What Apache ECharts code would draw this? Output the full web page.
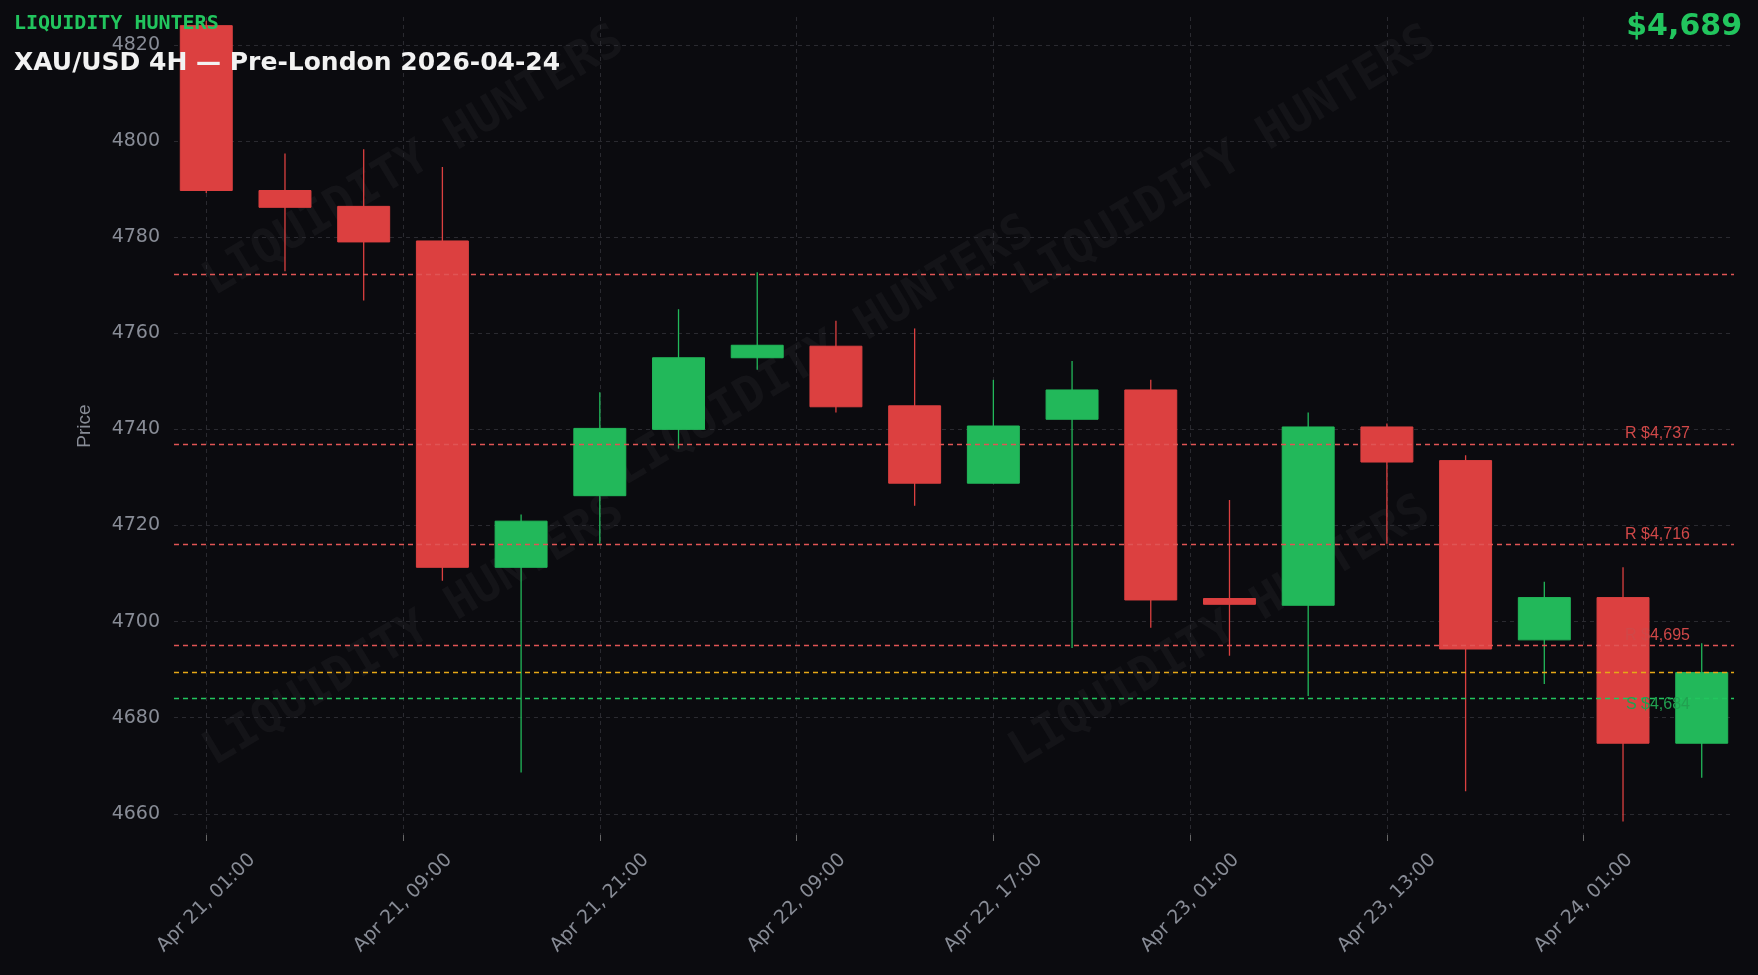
<!DOCTYPE html>
<html><head><meta charset="utf-8">
<script src="https://cdn.jsdelivr.net/npm/echarts@6/dist/echarts.min.js"></script>
<style>html,body{margin:0;background:#0b0b0f;}#c{width:1758px;height:975px;}</style>
</head><body><div id="c"></div>
<script>
const opens  = [4824,4789.7,4786.4,4779.2,4711.3,4726.2,4740,4754.9,4757.3,4744.9,4728.8,4742.1,4748.2,4704.8,4703.4,4740.5,4733.5,4696.2,4705,4674.7];
const closes = [4789.7,4786.2,4779,4711.3,4720.9,4740.2,4754.9,4757.5,4744.7,4728.8,4740.7,4748.2,4704.5,4703.6,4740.5,4733.2,4694.3,4705.0,4674.7,4689.4];
const lows   = [4789.2,4772.9,4766.8,4708.5,4668.6,4716.2,4736,4752.4,4743.5,4724.1,4728.8,4694.5,4698.7,4692.9,4684.5,4716.2,4664.7,4687,4658.4,4667.5];
const highs  = [4825,4797.4,4798.3,4794.6,4722.3,4747.7,4765,4772.7,4762.6,4761,4750.3,4754.2,4750.3,4725.3,4743.5,4741.2,4734.6,4708.3,4711.3,4695.5];
const tickPos = [0,2.5,5,7.5,10,12.5,15,17.5];
const tickLabels = ['Apr 21, 01:00','Apr 21, 09:00','Apr 21, 21:00','Apr 22, 09:00','Apr 22, 17:00','Apr 23, 01:00','Apr 23, 13:00','Apr 24, 01:00'];
const yTicks = [4660,4680,4700,4720,4740,4760,4780,4800,4820];
const resistances = [4772.2,4737,4716,4695];
const resLabels = ['', 'R $4,737','R $4,716','R $4,695'];
const supports = [4684]; const supLabels = ['S $4,684'];
const lastPrice = 4689.4;

const GREEN='#22b85a', RED='#dc4040';
const data = opens.map((o,i)=>[i,o,closes[i],lows[i],highs[i]]);

const wm = [];
[[220,306],[630,496],[1032,306],[220,776],[1026,776]].forEach(([x,y])=>{
  wm.push({type:'text',x:x,y:y,rotation:Math.PI/180*31,style:{text:'LIQUIDITY HUNTERS',fill:'rgba(255,255,255,0.04)',font:'bold 47px "DejaVu Sans Mono"',verticalAlign:'bottom'},z:-1});
});

const markData = [];
resistances.forEach((v,i)=>markData.push({yAxis:v,lineStyle:{color:'#e05555',type:[5,4],width:1.3},label:{show:!!resLabels[i],formatter:resLabels[i],position:'insideEndTop',color:'#d04848',fontSize:16,distance:[44,2]}}));
supports.forEach((v,i)=>markData.push({yAxis:v,lineStyle:{color:'#22c55e',type:[5,4],width:1.3},label:{show:true,formatter:supLabels[i],position:'insideEndBottom',color:'#22a050',fontSize:16,distance:[44,-2]}}));
markData.push({yAxis:lastPrice,lineStyle:{color:'#e6a817',type:[5,4],width:1.3},label:{show:false}});

const chart = echarts.init(document.getElementById('c'));
chart.setOption({
  backgroundColor:'#0b0b0f',
  animation:false,
  graphic:[...wm,
    {type:'text',left:14,top:14,z:100,style:{text:'LIQUIDITY HUNTERS',fill:'#22c55e',font:'bold 20px "DejaVu Sans Mono"'}},
    {type:'text',left:14,top:51,z:100,style:{text:'XAU/USD 4H — Pre-London 2026-04-24',fill:'#f2f2f2',font:'bold 25px "DejaVu Sans"'}},
    {type:'text',right:16,top:12,z:100,style:{text:'$4,689',fill:'#22c55e',font:'bold 30px "DejaVu Sans"',align:'right'}}
  ],
  grid:{left:174,right:24,top:17,bottom:140},
  xAxis:{type:'value',min:-0.41,max:19.41,
    axisLine:{show:false},
    axisTick:{show:true,customValues:tickPos,length:6,lineStyle:{color:'#666'}},
    axisLabel:{customValues:tickPos,formatter:v=>{const i=tickPos.indexOf(v);return i>=0?tickLabels[i]:'';},rotate:45,align:'center',verticalAlign:'middle',color:'#888c96',fontSize:19,margin:68,fontFamily:'DejaVu Sans'},
    splitLine:{show:true,lineStyle:{color:'#2a2a30',type:[4,4]}}},
  yAxis:{type:'value',min:4655.6,max:4825.8,name:'Price',nameLocation:'middle',nameGap:80,nameTextStyle:{color:'#888c96',fontSize:19},
    axisLine:{show:false},axisTick:{show:false,customValues:yTicks},
    axisLabel:{customValues:yTicks,formatter:v=>String(v),color:'#888c96',fontSize:19,margin:14,fontFamily:'DejaVu Sans'},
    splitLine:{show:true,lineStyle:{color:'#2a2a30',type:[4,4]}}},
  series:[{
    type:'custom',
    data:data,
    encode:{x:0,y:[1,2,3,4]},
    clip:true,
    renderItem:(params,api)=>{
      const x=api.value(0),o=api.value(1),c=api.value(2),l=api.value(3),h=api.value(4);
      const col=c>=o?GREEN:RED;
      const pO=api.coord([x,o]),pC=api.coord([x,c]),pL=api.coord([x,l]),pH=api.coord([x,h]);
      const w=api.size([1,0])[0]*0.66;
      const top=Math.min(pO[1],pC[1]),hgt=Math.max(Math.abs(pO[1]-pC[1]),2);
      return {type:'group',children:[
        {type:'line',shape:{x1:pL[0],y1:pL[1],x2:pH[0],y2:pH[1]},style:{stroke:col,lineWidth:1.3}},
        {type:'rect',shape:{x:pO[0]-w/2,y:top,width:w,height:hgt},style:{fill:col,stroke:col,lineWidth:1}}
      ]};
    },
    markLine:{symbol:'none',silent:true,data:markData}
  }]
});
</script></body></html>
